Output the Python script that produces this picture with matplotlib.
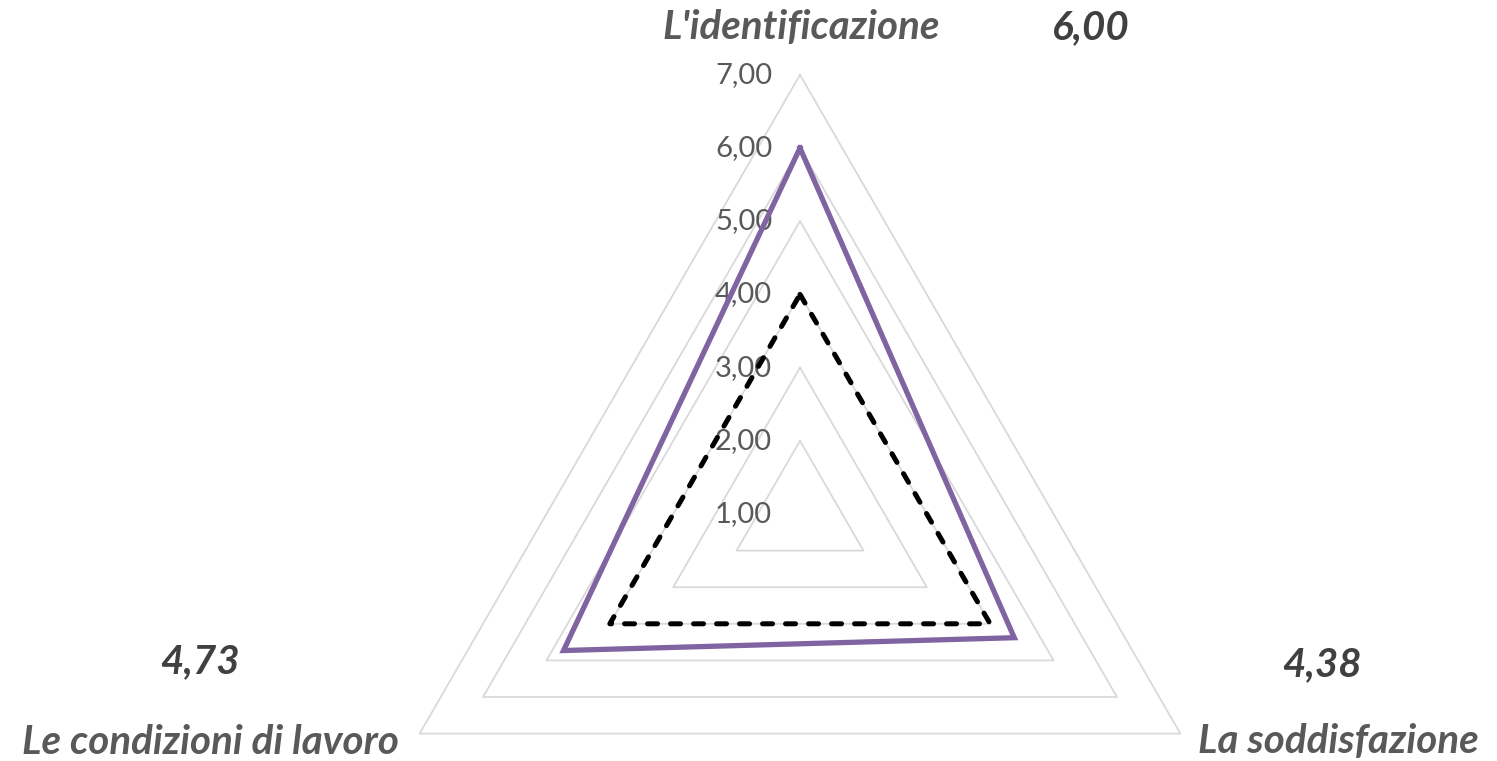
import numpy as np
import matplotlib
matplotlib.use("Agg")
import matplotlib.pyplot as plt

categories = ["L'identificazione", "La soddisfazione", "Le condizioni di lavoro"]
serie_valori = [6.00, 4.38, 4.73]
serie_rif = [4.00, 4.00, 4.00]
ticks = [1, 2, 3, 4, 5, 6, 7]
tick_labels = ["1,00", "2,00", "3,00", "4,00", "5,00", "6,00", "7,00"]
r_min, r_max = 1, 7

plt.rcParams["font.family"] = ["Lato", "DejaVu Sans"]

W, H, DPI = 1497, 761, 100
fig = plt.figure(figsize=(W / DPI, H / DPI), dpi=DPI)
ax = fig.add_axes([0, 0, 1, 1])

# pixel layout of the radar
cx, cy, unit = 800, 514, 73.2
ax.set_xlim(-cx / unit, (W - cx) / unit)
ax.set_ylim(-(H - cy) / unit, cy / unit)
ax.axis("off")

angles = np.deg2rad([90, -30, 210])


def to_xy(vals):
    r = np.asarray(vals, dtype=float) - r_min
    x = r * np.cos(angles)
    y = r * np.sin(angles)
    return np.append(x, x[0]), np.append(y, y[0])


# triangular gridlines
for t in ticks[1:]:
    gx, gy = to_xy([t] * 3)
    ax.plot(gx, gy, color="#d9d9d9", lw=1.3, zorder=1)

# value labels along the top axis
for t, lab in zip(ticks, tick_labels):
    ax.text(-0.38, t - r_min, lab, ha="right", va="center",
            fontsize=21, color="#595959", zorder=2)

x2, y2 = to_xy(serie_rif)
ax.plot(x2, y2, color="black", lw=3.6, ls=(0, (2.0, 2.6)),
        dash_capstyle="round", solid_joinstyle="miter", zorder=3)

x1, y1 = to_xy(serie_valori)
ax.plot(x1, y1, color="#8064a2", lw=3.8, solid_joinstyle="miter", zorder=4)

# category labels
lab_font = dict(fontsize=29, fontweight="bold", fontstyle="italic", color="#595959")
fig.text(801 / W, 1 - 28 / H, categories[0], ha="center", va="center", **lab_font)
fig.text(1338 / W, 1 - 742 / H, categories[1], ha="center", va="center", **lab_font)
fig.text(210 / W, 1 - 742 / H, categories[2], ha="center", va="center", **lab_font)

# data labels
val_font = dict(fontsize=29, fontweight="bold", fontstyle="italic", color="#404040")
val_pos = [(1091, 28), (1322, 665), (200, 662)]
for (px, py), v in zip(val_pos, serie_valori):
    fig.text(px / W, 1 - py / H, f"{v:.2f}".replace(".", ","),
             ha="center", va="center", **val_font)

fig.savefig("out.png", dpi=DPI)
